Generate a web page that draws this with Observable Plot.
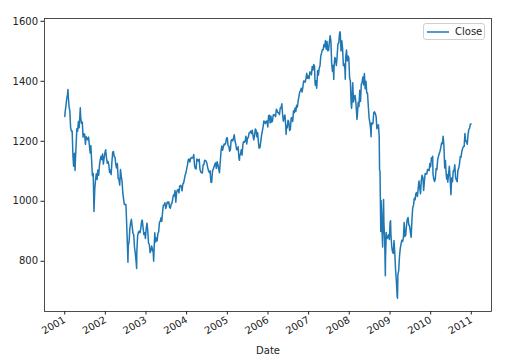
<!DOCTYPE html>
<html>
<head>
<meta charset="utf-8">
<script src="https://cdn.jsdelivr.net/npm/d3@7"></script>
<script src="https://cdn.jsdelivr.net/npm/@observablehq/plot@0.6"></script>
<style>
  html, body { margin: 0; padding: 0; background: #fff; }
  #wrap { position: relative; width: 513px; height: 359px; font-family: "DejaVu Sans", sans-serif; }
  #legend { position: absolute; left: 423px; top: 23px; width: 62px; height: 17px; border: 1px solid #d0d0d0; border-radius: 3px; background: rgba(255,255,255,0.8); box-sizing: border-box; font-size: 10px; }
  #legend svg { position: absolute; left: 3px; top: 7px; }
  #legend span { position: absolute; left: 31px; top: 2px; color: #222; }
</style>
</head>
<body>
<div id="wrap"><div id="legend"><svg width="22" height="2"><line x1="0" y1="1" x2="22" y2="1" stroke="#1f77b4" stroke-width="1.5"/></svg><span>Close</span></div></div>
<script>
// Weekly (Friday) closes, one array per year
const y2001 = [1298,1318,1342,1355,1350,1315,1302,1246,1234,1234,1151,1139,1160,1128,1183,1242,1234,1266,1245,1291,1277,1260,1264,1214,1225,1224,1190,1215,1210,1205,1214,1190,1161,1185,1134,1085,1093,966,1041,1071,1092,1073,1104,1087,1120,1138,1150,1139,1158,1124,1144,1161];
const y2002 = [1172,1146,1127,1133,1122,1096,1104,1089,1131,1164,1166,1148,1147,1122,1111,1126,1076,1073,1054,1106,1083,1067,1027,1007,989,990,989,921,847,852,864,908,928,940,916,893,889,846,827,800,835,884,897,900,895,909,930,936,912,889,895,876];
const y2003 = [909,927,901,861,856,829,835,851,841,829,833,895,864,878,868,893,898,930,933,945,933,964,987,988,995,976,985,998,994,998,980,977,990,993,1008,1021,1018,1036,997,1029,1038,1039,1028,1051,1053,1050,1035,1058,1061,1074,1088,1095];
const y2004 = [1109,1122,1139,1141,1131,1142,1146,1144,1145,1156,1120,1109,1108,1141,1139,1134,1140,1107,1098,1095,1094,1121,1122,1137,1135,1134,1125,1112,1101,1096,1102,1064,1064,1099,1107,1114,1123,1128,1110,1132,1122,1108,1095,1130,1167,1184,1170,1182,1191,1189,1194,1210,1212];
const y2005 = [1186,1184,1167,1171,1203,1206,1201,1211,1222,1200,1190,1172,1172,1182,1143,1152,1157,1172,1154,1189,1199,1197,1201,1217,1191,1211,1212,1228,1229,1234,1226,1237,1220,1205,1218,1241,1237,1215,1229,1196,1187,1179,1199,1220,1234,1248,1268,1265,1259,1267,1268,1248];
const y2006 = [1285,1287,1261,1284,1264,1267,1287,1289,1287,1282,1307,1302,1295,1295,1289,1311,1311,1325,1291,1267,1280,1288,1253,1252,1245,1270,1265,1236,1240,1278,1279,1266,1302,1295,1311,1299,1320,1314,1336,1350,1365,1369,1377,1364,1380,1401,1400,1397,1409,1427,1410,1418];
const y2007 = [1409,1431,1430,1422,1449,1438,1456,1451,1387,1402,1386,1436,1421,1443,1452,1484,1494,1505,1505,1522,1515,1536,1507,1533,1502,1503,1530,1552,1534,1459,1433,1453,1445,1479,1474,1453,1484,1525,1527,1557,1562,1501,1535,1509,1453,1458,1441,1481,1504,1468,1484,1478];
const y2008 = [1411,1401,1325,1330,1395,1331,1349,1353,1331,1294,1288,1330,1316,1370,1333,1390,1397,1414,1388,1426,1375,1400,1361,1360,1317,1278,1262,1240,1261,1257,1260,1296,1298,1292,1283,1242,1252,1255,1213,1099,899,940,877,969,930,873,800,896,876,879,888,873];
const y2009 = [931,890,850,832,826,869,827,770,735,683,757,769,816,843,857,870,866,877,929,883,887,919,940,946,921,918,896,880,940,979,987,1010,1005,1026,1029,1016,1042,1068,1044,1025,1071,1087,1079,1036,1069,1093,1091,1091,1106,1106,1102,1126];
const y2010 = [1115,1145,1136,1091,1074,1066,1075,1109,1105,1139,1150,1159,1167,1179,1194,1192,1217,1187,1111,1136,1088,1089,1064,1092,1117,1076,1022,1078,1065,1102,1102,1122,1079,1071,1065,1104,1110,1125,1149,1147,1166,1176,1183,1183,1226,1200,1200,1190,1224,1240,1244,1257,1258];
const years = [2001,2002,2003,2004,2005,2006,2007,2008,2009,2010];
const yearly = [y2001,y2002,y2003,y2004,y2005,y2006,y2007,y2008,y2009,y2010];

// Daily extremes visible as spikes in the chart
const extraDates = ["2001-01-02","2001-01-30","2001-03-22","2001-04-04","2001-05-21","2002-07-23","2002-10-09","2002-11-27","2003-03-11","2004-08-12","2005-04-20","2005-10-13","2006-06-13","2007-02-27","2007-03-14","2007-08-15","2007-10-09","2007-11-26","2008-01-22","2008-03-10","2008-07-15","2008-09-29","2008-10-13","2008-10-27","2008-11-04","2008-11-20","2009-01-06","2009-03-09","2010-01-19","2010-05-25"];
const extraCloses = [1283,1373,1117,1103,1312,797,776,938,800,1063,1137,1177,1223,1399,1377,1406,1565,1407,1310,1273,1215,1106,1003,848,1006,752,935,677,1150,1074];

const xTickYears = [2001,2002,2003,2004,2005,2006,2007,2008,2009,2010,2011];
const yTicks = [800,1000,1200,1400,1600];

const rows = [];
years.forEach((yr, k) => {
  const first = d3.utcFriday.ceil(new Date(Date.UTC(yr, 0, 1)));
  yearly[k].forEach((v, i) => rows.push({Date: d3.utcFriday.offset(first, i), Close: v}));
});
extraDates.forEach((d, i) => rows.push({Date: new Date(d + "T00:00:00Z"), Close: extraCloses[i]}));
rows.sort((a, b) => a.Date - b.Date);

const [x0, x1] = d3.extent(rows, d => d.Date);
const xs = x1 - x0;
const [v0, v1] = d3.extent(rows, d => d.Close);
const vs = v1 - v0;

const chart = Plot.plot({
  width: 513,
  height: 359,
  marginLeft: 44,
  marginRight: 22,
  marginTop: 18,
  marginBottom: 48,
  style: {fontFamily: "DejaVu Sans, sans-serif", fontSize: "10px", color: "#222", background: "#fff"},
  x: {type: "utc", domain: [new Date(+x0 - 0.05 * xs), new Date(+x1 + 0.05 * xs)]},
  y: {domain: [v0 - 0.05 * vs, v1 + 0.05 * vs]},
  marks: [
    Plot.line(rows, {x: "Date", y: "Close", stroke: "#1f77b4", strokeWidth: 1.5}),
    Plot.frame({stroke: "#222", strokeWidth: 0.8}),
    Plot.axisY({ticks: yTicks, tickSize: 3.5, tickPadding: 3, label: null, tickFormat: d => String(d), stroke: "#222"}),
    Plot.axisX({ticks: xTickYears.map(y => new Date(Date.UTC(y, 0, 1))), tickSize: 3.5, tickPadding: 4, tickRotate: -30, tickFormat: d3.utcFormat("%Y"), label: "Date", labelAnchor: "center", labelOffset: 42, labelArrow: "none", stroke: "#222"})
  ]
});
document.getElementById("wrap").prepend(chart);
chart.style.position = "absolute";
chart.style.left = "0";
chart.style.top = "0";
</script>
</body>
</html>
